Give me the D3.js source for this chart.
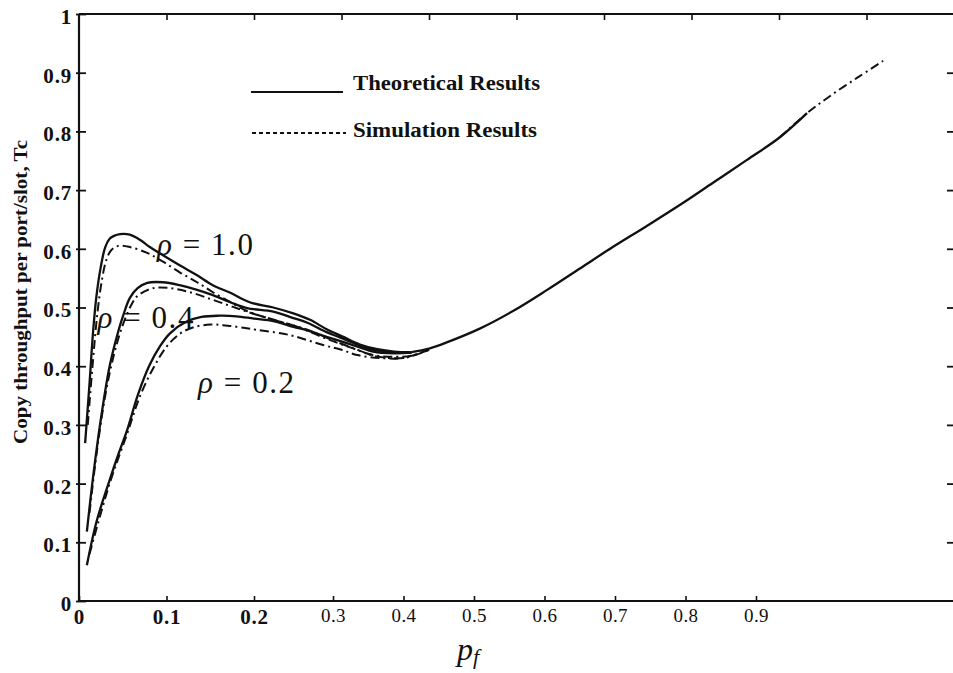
<!doctype html>
<html lang="en">
<head>
  <meta charset="utf-8">
  <title>Copy throughput - D3</title>
  <style>
    body { margin: 0; background: #fff; }
    svg { display: block; }
  </style>
</head>
<body>
  <svg width="953" height="673"></svg>

  <script src="https://cdn.jsdelivr.net/npm/d3@7/dist/d3.min.js"></script>
  <script>
    // ticks
    var xTicks = [0, 0.1, 0.2, 0.3, 0.4, 0.5, 0.6, 0.7, 0.8, 0.9];
    var topTicks = [0.1, 0.2, 0.3, 0.4, 0.5, 0.6, 0.7, 0.8, 0.9];
    var yTicks = [0, 0.1, 0.2, 0.3, 0.4, 0.5, 0.6, 0.7, 0.8, 0.9, 1];

    // theoretical curves, rho = 1.0 / 0.4 / 0.2
    var pfTh10 = [0.007, 0.012, 0.016, 0.02, 0.025, 0.03, 0.035, 0.04, 0.047, 0.058, 0.07, 0.081, 0.096, 0.115, 0.135, 0.153, 0.173, 0.195, 0.222, 0.245, 0.264, 0.283, 0.302, 0.321, 0.341, 0.36, 0.38];
    var tcTh10 = [0.269, 0.37, 0.457, 0.52, 0.57, 0.603, 0.617, 0.622, 0.625, 0.624, 0.615, 0.603, 0.589, 0.572, 0.555, 0.538, 0.525, 0.509, 0.500, 0.490, 0.479, 0.463, 0.450, 0.437, 0.429, 0.425, 0.424];
    var pfTh04 = [0.009, 0.016, 0.025, 0.035, 0.045, 0.05, 0.058, 0.067, 0.078, 0.096, 0.115, 0.135, 0.153, 0.173, 0.192, 0.222, 0.245, 0.261, 0.283, 0.298, 0.321, 0.336, 0.36, 0.38];
    var tcTh04 = [0.118, 0.21, 0.31, 0.40, 0.46, 0.484, 0.516, 0.533, 0.542, 0.543, 0.538, 0.530, 0.521, 0.509, 0.499, 0.493, 0.482, 0.474, 0.458, 0.449, 0.435, 0.428, 0.423, 0.423];
    var pfTh02 = [0.009, 0.02, 0.035, 0.045, 0.055, 0.067, 0.08, 0.093, 0.104, 0.123, 0.14, 0.16, 0.18, 0.2, 0.222, 0.245, 0.261, 0.283, 0.298, 0.321, 0.336, 0.36, 0.38];
    var tcTh02 = [0.061, 0.135, 0.206, 0.25, 0.291, 0.35, 0.400, 0.435, 0.456, 0.476, 0.484, 0.486, 0.485, 0.481, 0.477, 0.467, 0.461, 0.450, 0.443, 0.432, 0.425, 0.422, 0.423];
    // common branch after the curves meet
    var pfThTail = [0.38, 0.40, 0.421, 0.458, 0.496, 0.535, 0.573, 0.61, 0.649, 0.687, 0.725, 0.763, 0.801, 0.832];
    var tcThTail = [0.424, 0.430, 0.441, 0.464, 0.494, 0.530, 0.567, 0.603, 0.639, 0.675, 0.713, 0.751, 0.790, 0.831];

    // simulation curves
    var pfSim10 = [0.01, 0.016, 0.021, 0.026, 0.031, 0.037, 0.045, 0.058, 0.078, 0.096, 0.115, 0.135, 0.153, 0.173, 0.192, 0.22, 0.25, 0.279, 0.31, 0.336, 0.36, 0.38, 0.40];
    var tcSim10 = [0.30, 0.41, 0.49, 0.545, 0.58, 0.598, 0.605, 0.603, 0.593, 0.578, 0.560, 0.543, 0.526, 0.509, 0.494, 0.480, 0.467, 0.449, 0.432, 0.419, 0.416, 0.418, 0.428];
    var pfSim04 = [0.012, 0.02, 0.03, 0.04, 0.05, 0.06, 0.067, 0.085, 0.104, 0.127, 0.153, 0.176, 0.2, 0.23, 0.261, 0.29, 0.32, 0.336, 0.355, 0.375, 0.40];
    var tcSim04 = [0.15, 0.25, 0.35, 0.42, 0.47, 0.505, 0.52, 0.533, 0.533, 0.526, 0.513, 0.501, 0.489, 0.476, 0.462, 0.444, 0.427, 0.418, 0.414, 0.415, 0.428];
    var pfSim02 = [0.012, 0.035, 0.055, 0.07, 0.085, 0.1, 0.115, 0.13, 0.15, 0.17, 0.19, 0.203, 0.241, 0.279, 0.30, 0.318, 0.344, 0.37, 0.40];
    var tcSim02 = [0.08, 0.20, 0.285, 0.35, 0.397, 0.433, 0.455, 0.466, 0.471, 0.469, 0.465, 0.462, 0.453, 0.436, 0.428, 0.419, 0.414, 0.414, 0.428];
    var pfSimTail = [0.801, 0.832, 0.86, 0.89, 0.919];
    var tcSimTail = [0.790, 0.831, 0.862, 0.892, 0.920];

    var rhoLabels = ['1.0', '0.4', '0.2'];
    var rhoAt = [[0.089, 0.590], [0.021, 0.465], [0.136, 0.355]];

    var serif = '"Liberation Serif", "DejaVu Serif", serif';

    var x = d3.scaleLinear().domain([0, 1]).range([79, 954]);
    var y = d3.scaleLinear().domain([0, 1]).range([601, 14]);
    // printed bottom labels sit on a squeezed scale in the original
    var xPrint = d3.scaleLinear().domain([0, 0.2, 0.3, 0.9]).range([79, 254, 333, 756]);

    var svg = d3.select('svg');
    var zip = (a, b) => a.map((v, i) => [v, b[i]]);
    var line = d3.line()
      .x(d => x(d[0]))
      .y(d => y(d[1]))
      .curve(d3.curveCatmullRom.alpha(0.5));

    // frame
    svg.append('line').attr('x1', x(0)).attr('x2', x(0)).attr('y1', y(1)).attr('y2', y(0))
      .attr('stroke', '#111').attr('stroke-width', 2.2);
    svg.append('line').attr('x1', x(0)).attr('x2', x(1)).attr('y1', y(0)).attr('y2', y(0))
      .attr('stroke', '#111').attr('stroke-width', 2.2);
    svg.append('line').attr('x1', x(0)).attr('x2', x(1)).attr('y1', y(1)).attr('y2', y(1))
      .attr('stroke', '#111').attr('stroke-width', 2.2);

    var fmt = d => String(d);

    var gl = svg.append('g').attr('transform', 'translate(' + x(0) + ',0)')
      .call(d3.axisLeft(y).tickValues(yTicks).tickFormat(fmt).tickSize(0));
    gl.select('.domain').remove();
    gl.selectAll('.tick line').attr('x1', -3).attr('x2', 7).attr('stroke', '#111').attr('stroke-width', 1.8);
    gl.selectAll('.tick text').attr('x', -7).attr('dy', '0.45em')
      .attr('font-size', 21).attr('font-weight', 'bold').attr('letter-spacing', 0.8);

    var gb = svg.append('g').attr('transform', 'translate(0,' + y(0) + ')')
      .call(d3.axisBottom(xPrint).tickValues(xTicks).tickFormat(fmt).tickSize(0));
    gb.select('.domain').remove();
    gb.selectAll('.tick line').attr('y1', 0).attr('y2', -5).attr('stroke', '#111').attr('stroke-width', 1.6);
    gb.selectAll('.tick text').attr('y', 8)
      .attr('font-size', d => d < 0.25 ? 21 : 19)
      .attr('font-weight', d => d < 0.25 ? 'bold' : 'normal')
      .attr('letter-spacing', d => d < 0.25 ? 0.8 : 0.4);

    var gt = svg.append('g').attr('transform', 'translate(0,' + y(1) + ')')
      .call(d3.axisTop(x).tickValues(topTicks).tickFormat('').tickSize(-6));
    gt.select('.domain').remove();
    gt.selectAll('.tick line').attr('stroke', '#111').attr('stroke-width', 1.6);

    var gr = svg.append('g').attr('transform', 'translate(' + x(1) + ',0)')
      .call(d3.axisRight(y).tickValues(yTicks.slice(1, -1)).tickFormat('').tickSize(-7));
    gr.select('.domain').remove();
    gr.selectAll('.tick line').attr('stroke', '#111').attr('stroke-width', 1.8);

    svg.selectAll('.tick text')
      .attr('fill', '#111')
      .attr('font-family', serif);

    // curves
    var theory = [zip(pfTh10, tcTh10), zip(pfTh04, tcTh04), zip(pfTh02, tcTh02), zip(pfThTail, tcThTail)];
    var sim = [zip(pfSim10, tcSim10), zip(pfSim04, tcSim04), zip(pfSim02, tcSim02), zip(pfSimTail, tcSimTail)];

    svg.append('g').selectAll('path').data(sim).enter()
      .append('path')
      .attr('d', line)
      .attr('fill', 'none')
      .attr('stroke', '#111')
      .attr('stroke-width', 2)
      .attr('stroke-dasharray', '9,4,2,4');

    svg.append('g').selectAll('path').data(theory).enter()
      .append('path')
      .attr('d', line)
      .attr('fill', 'none')
      .attr('stroke', '#111')
      .attr('stroke-width', 2.3);

    // rho labels
    var rl = svg.append('g').selectAll('text').data(rhoLabels).enter()
      .append('text')
      .attr('x', (d, i) => x(rhoAt[i][0]))
      .attr('y', (d, i) => y(rhoAt[i][1]))
      .attr('font-family', serif)
      .attr('font-size', 31)
      .attr('textLength', 96)
      .attr('lengthAdjust', 'spacing')
      .attr('fill', '#111');
    rl.append('tspan').attr('font-style', 'italic').text('\u03c1');
    rl.append('tspan').text(d => ' = ' + d);

    // legend
    var legend = svg.append('g');
    legend.append('line').attr('x1', 251).attr('x2', 343).attr('y1', 92).attr('y2', 92)
      .attr('stroke', '#111').attr('stroke-width', 2);
    legend.append('line').attr('x1', 252).attr('x2', 346).attr('y1', 133).attr('y2', 133)
      .attr('stroke', '#111').attr('stroke-width', 2).attr('stroke-dasharray', '4,3');
    legend.selectAll('text').data(['Theoretical Results', 'Simulation Results']).enter()
      .append('text')
      .attr('x', 353)
      .attr('y', (d, i) => 90 + i * 47)
      .attr('font-family', serif)
      .attr('font-weight', 'bold')
      .attr('font-size', 20)
      .attr('textLength', (d, i) => i ? 184 : 187)
      .attr('lengthAdjust', 'spacingAndGlyphs')
      .attr('fill', '#111')
      .text(d => d);

    // axis titles
    svg.append('text')
      .attr('transform', 'translate(27,292) rotate(-90)')
      .attr('text-anchor', 'middle')
      .attr('font-family', serif)
      .attr('font-weight', 'bold')
      .attr('font-size', 19)
      .attr('textLength', 304)
      .attr('lengthAdjust', 'spacingAndGlyphs')
      .attr('fill', '#111')
      .text('Copy throughput per port/slot, Tc');

    var xt = svg.append('text')
      .attr('x', 457)
      .attr('y', 660)
      .attr('font-family', serif)
      .attr('font-style', 'italic')
      .attr('font-size', 32)
      .attr('fill', '#111');
    xt.append('tspan').text('p');
    xt.append('tspan').attr('font-size', 22).attr('dy', 4).text('f');
  </script>
</body>
</html>
